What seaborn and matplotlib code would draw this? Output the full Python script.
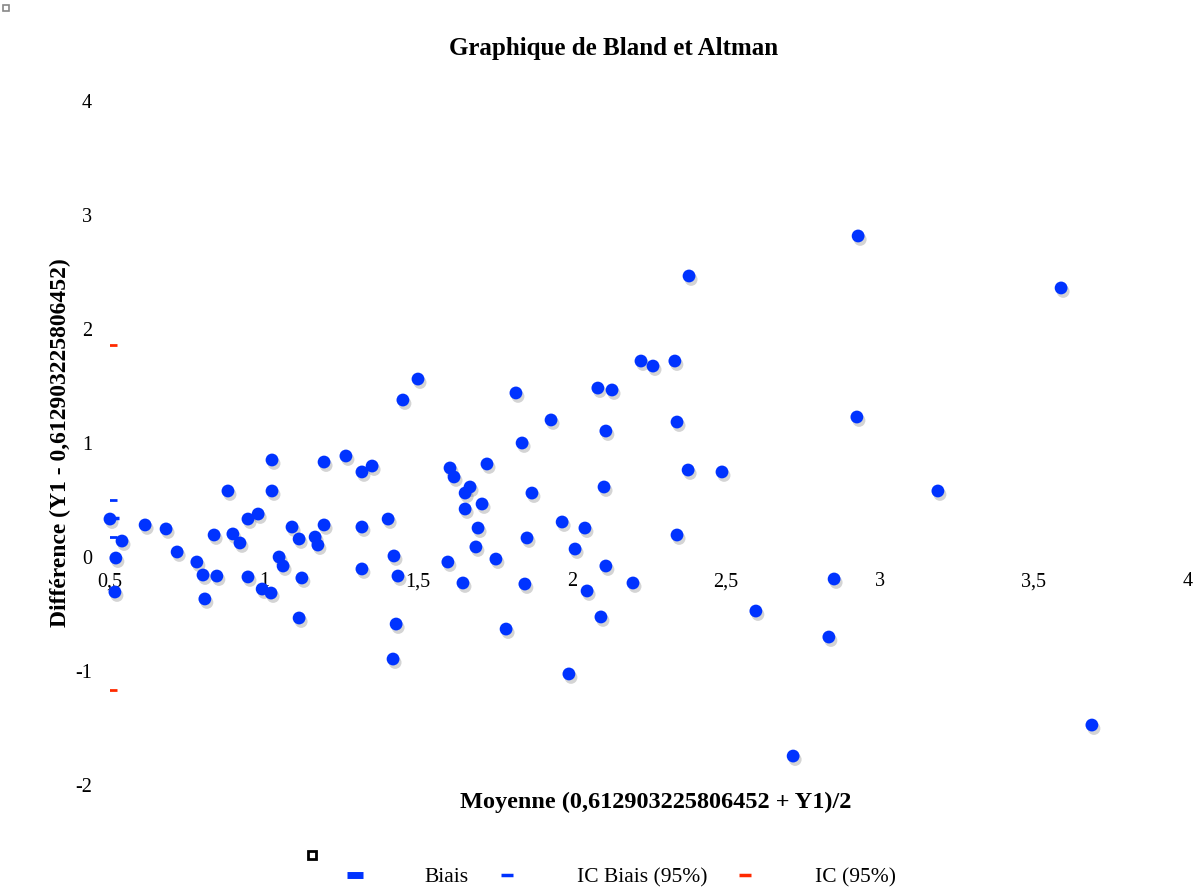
"""
Bland-Altman plot: difference vs mean, with bias and confidence limits.
"""
import matplotlib
matplotlib.use("Agg")  # render to file, no GUI needed
import matplotlib.pyplot as plt
import matplotlib.patheffects as pe
from matplotlib.lines import Line2D
from matplotlib.ticker import FuncFormatter
import pandas as pd
import seaborn as sns

# --- data ---
moyenne = [
    0.500, 0.539, 0.519, 0.516, 0.614, 0.682, 0.718, 0.782, 0.802, 0.808,
    0.838, 0.847, 0.883, 0.899, 0.922, 0.948, 0.948, 0.981, 0.994, 1.023,
    1.026, 1.026, 1.049, 1.062, 1.091, 1.114, 1.114, 1.123, 1.166, 1.175,
    1.195, 1.195, 1.266, 1.318, 1.318, 1.318, 1.351, 1.403, 1.422, 1.435,
    1.429, 1.419, 1.451, 1.500, 1.597, 1.604, 1.617, 1.646, 1.653, 1.653,
    1.669, 1.688, 1.695, 1.708, 1.724, 1.753, 1.786, 1.818, 1.838, 1.847,
    1.854, 1.870, 1.932, 1.968, 1.990, 2.010, 2.042, 2.049, 2.084, 2.094,
    2.104, 2.110, 2.110, 2.130, 2.198, 2.224, 2.263, 2.334, 2.341, 2.341,
    2.377, 2.380, 2.487, 2.597, 2.718, 2.834, 2.851, 2.925, 2.929, 3.188,
    3.588, 3.688,
]
difference = [
    0.333, 0.140, -0.009, -0.307, 0.281, 0.246, 0.044, -0.044, -0.158, -0.368,
    0.193, -0.167, 0.579, 0.202, 0.123, 0.333, -0.175, 0.377, -0.281, -0.316,
    0.851, 0.579, 0.000, -0.079, 0.263, 0.158, -0.535, -0.184, 0.175, 0.105,
    0.833, 0.281, 0.886, 0.746, 0.263, -0.105, 0.798, 0.333, 0.009, -0.167,
    -0.588, -0.895, 1.377, 1.561, -0.044, 0.781, 0.702, -0.228, 0.561, 0.421,
    0.614, 0.088, 0.254, 0.465, 0.816, -0.018, -0.632, 1.439, 1.000, -0.237,
    0.167, 0.561, 1.202, 0.307, -1.026, 0.070, 0.254, -0.298, 1.482, -0.526,
    0.614, 1.105, -0.079, 1.465, -0.228, 1.719, 1.675, 1.719, 1.184, 0.193,
    0.763, 2.465, 0.746, -0.474, -1.746, -0.702, -0.193, 1.228, 2.816, 0.579,
    2.360, -1.474,
]
biais = [0.34]
ic_biais = [0.175, 0.50]
ic = [-1.17, 1.86]

x_ticks = [0.5, 1, 1.5, 2, 2.5, 3, 3.5, 4]
y_ticks = [-2, -1, 0, 1, 2, 3, 4]

BLUE = "#0033ff"
RED = "#ff2a00"

sns.set_style("white")
plt.rcParams["font.family"] = ["Liberation Serif", "DejaVu Serif"]
plt.rcParams["axes.unicode_minus"] = False
plt.rcParams["text.color"] = "black"
plt.rcParams["axes.labelcolor"] = "black"
plt.rcParams["xtick.color"] = "black"
plt.rcParams["ytick.color"] = "black"

df = pd.DataFrame({"moyenne": moyenne, "difference": difference})

fig = plt.figure(figsize=(11.95, 8.93), dpi=100)
ax = fig.add_axes([110 / 1195, 1 - 785 / 893, 1078 / 1195, 684 / 893])

shadow = [pe.SimplePatchShadow(offset=(1.5, -2.5), alpha=0.25, shadow_rgbFace="#555555"), pe.Normal()]
pts = sns.scatterplot(data=df, x="moyenne", y="difference", ax=ax, color=BLUE,
                      s=85, linewidth=0, zorder=3, clip_on=False)
pts.collections[0].set_path_effects(shadow)

# bias and limits: drawn as short dashes at the left edge, as in the original
x_left = x_ticks[0] + 0.008
ax.scatter([x_left] * len(biais), biais, marker="_", s=90, color=BLUE, linewidths=2.5, zorder=4, clip_on=False)
ax.scatter([x_left] * len(ic_biais), ic_biais, marker="_", s=45, color=BLUE, linewidths=2, zorder=4)
ax.scatter([x_left] * len(ic), ic, marker="_", s=45, color=RED, linewidths=2, zorder=4)

ax.set_xlim(x_ticks[0], x_ticks[-1])
ax.set_ylim(y_ticks[0], y_ticks[-1])
ax.set_xticks(x_ticks)
ax.set_yticks(y_ticks)
fmt = FuncFormatter(lambda v, _: f"{v:g}".replace(".", ","))
ax.xaxis.set_major_formatter(fmt)
ax.yaxis.set_major_formatter(fmt)
ax.spines["bottom"].set_position(("data", 0))
for s in ax.spines.values():
    s.set_visible(False)
ax.tick_params(axis="x", length=0, pad=11, labelsize=14.5)
ax.tick_params(axis="y", length=0, pad=13, labelsize=14.5)

ax.set_xlabel("Moyenne (0,612903225806452 + Y1)/2", fontsize=17.5, fontweight="bold")
ax.set_ylabel("Différence (Y1 - 0,612903225806452)", fontsize=17, fontweight="bold")
ax.xaxis.set_label_coords(0.506, -0.010)
ax.yaxis.set_label_coords(-0.036, 0.5)

fig.text(614 / 1195, 1 - 48 / 893, "Graphique de Bland et Altman", ha="center", va="center",
         fontsize=18, fontweight="bold")

handles = [
    Line2D([], [], ls="none", marker="_", ms=12, mew=5, color=BLUE),
    Line2D([], [], ls="none", marker="_", ms=8, mew=2.5, color=BLUE),
    Line2D([], [], ls="none", marker="_", ms=8, mew=2.5, color=RED),
]
fig.legend(handles, ["Biais", "IC Biais (95%)", "IC (95%)"], loc="center",
           bbox_to_anchor=(622 / 1195, 1 - 877 / 893), ncol=3, frameon=False,
           fontsize=15.5, handlelength=0.6, handletextpad=2.95, columnspacing=1.45)

# small stray boxes present in the original export
fig.add_artist(Line2D([6 / 1195], [1 - 8 / 893], marker="s", ms=5, mfc="white", mec="#888888", mew=1.2))
fig.add_artist(Line2D([312 / 1195], [1 - 855 / 893], marker="s", ms=6, mfc="white", mec="black", mew=2))

fig.savefig("out.png", dpi=100)
